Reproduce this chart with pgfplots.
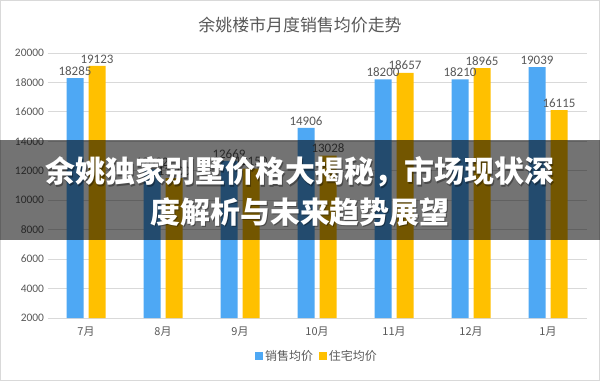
\documentclass[border=0pt]{standalone}
\usepackage{fontspec}
\setmainfont{Carlito}
\newfontfamily\cjk{Noto Sans CJK SC}
\usepackage{pgfplots}
\pgfplotsset{compat=1.18}
\definecolor{cblue}{HTML}{4EA8F4}
\definecolor{cyellow}{HTML}{FFC000}
\definecolor{cgrid}{HTML}{D9D9D9}
\definecolor{ctext}{HTML}{595959}
\begin{document}
\begin{tikzpicture}[x=1bp,y=1bp]
\path[use as bounding box] (0,0) rectangle (600,381);
\fill[white] (0,0) rectangle (600,381);
\draw[cgrid] (0.5,0.5) rectangle (599.5,380.5);
\node[text=ctext, font=\cjk\fontsize{17}{20}\selectfont] at (300,356) {余姚楼市月度销售均价走势};
\begin{axis}[at={(47.5bp,63bp)}, anchor=south west, scale only axis,
  width=539bp, height=265bp,
  ybar=5bp, bar width=17bp,
  xmin=-0.5, xmax=6.5, ymin=2000, ymax=20000,
  ytick={2000,4000,...,20000},
  scaled y ticks=false,
  xtick={0,...,6},
  xticklabels={7月,8月,9月,10月,11月,12月,1月},
  axis line style={draw=none},
  major tick length=0pt,
  ymajorgrids, grid style={cgrid, line width=0.8bp},
  /pgf/number format/assume math mode=true,
  /pgf/number format/1000 sep={},
  yticklabel style={font=\fontsize{11.5}{13}\selectfont, text=ctext, /pgf/number format/fixed, /pgf/number format/precision=0},
  xticklabel style={font=\cjk\fontsize{11}{13}\selectfont, text=ctext},
  xticklabel shift=5bp,
  nodes near coords={\fontsize{13}{15}\selectfont\pgfmathprintnumber[assume math mode=true,1000 sep={}]{\pgfplotspointmeta}},
  nodes near coords style={text=ctext, inner sep=2.5bp},
  legend columns=2,
  legend style={draw=none, fill=none, at={(0.5,-0.143)}, anchor=center,
    font=\cjk\fontsize{12}{14}\selectfont, text=ctext,
    /tikz/every even column/.append style={column sep=4bp}},
  legend image code/.code={\fill[#1] (0bp,-4bp) rectangle (8bp,4bp);},
]
\addplot[fill=cblue, draw=none] coordinates {(0,18285) (1,12092) (2,12669) (3,14906) (4,18200) (5,18210) (6,19039)};
\addplot[fill=cyellow, draw=none] coordinates {(0,19123) (1,11500) (2,12150) (3,13028) (4,18657) (5,18965) (6,16115)};
\legend{销售均价,住宅均价}
\end{axis}
\fill[black, opacity=0.55] (0,141) rectangle (600,241);
\node[text=black, opacity=0.35, font=\cjk\bfseries\fontsize{30}{34}\selectfont] at (301,207.5) {余姚独家别墅价格大揭秘，市场现状深};
\node[text=black, opacity=0.35, font=\cjk\bfseries\fontsize{30}{34}\selectfont] at (301,167.5) {度解析与未来趋势展望};
\node[text=white, font=\cjk\bfseries\fontsize{30}{34}\selectfont] at (300,209) {余姚独家别墅价格大揭秘，市场现状深};
\node[text=white, font=\cjk\bfseries\fontsize{30}{34}\selectfont] at (300,169) {度解析与未来趋势展望};
\end{tikzpicture}
\end{document}
